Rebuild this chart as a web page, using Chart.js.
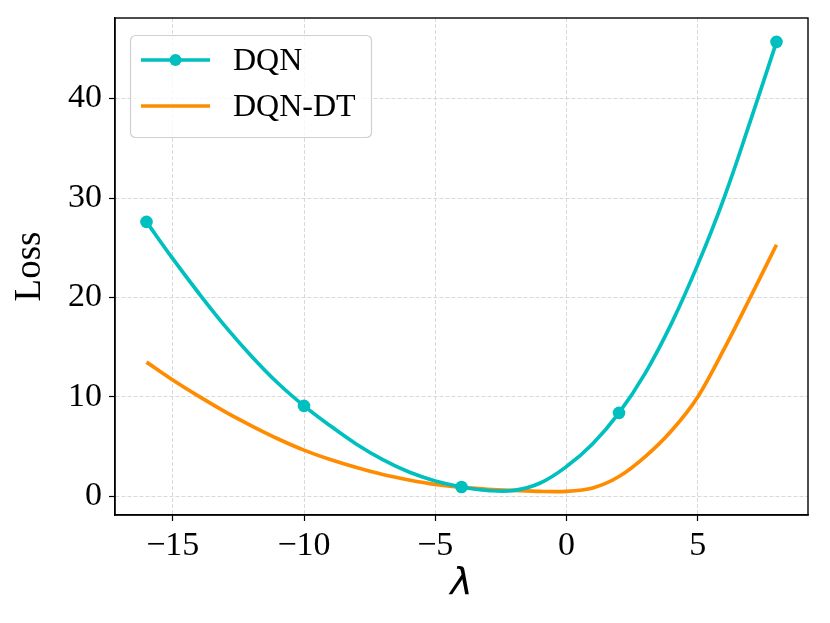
<!DOCTYPE html>
<html>
<head>
<meta charset="utf-8">
<script src="https://cdn.jsdelivr.net/npm/chart.js@4"></script>
<style>
  body { margin: 0; background: #fff; }
  #wrap { width: 830px; height: 623px; }
</style>
</head>
<body>
<div id="wrap"><canvas id="loss-chart" width="830" height="623"></canvas></div>
<script>
// lambda grid (values at each integer lambda)
const lambdas = [-16, -15, -14, -13, -12, -11, -10, -9, -8, -7, -6, -5, -4, -3, -2, -1, 0, 1, 2, 3, 4, 5, 6, 7, 8];
const dqnLoss = [27.6, 23.9, 20.4, 17.1, 14.1, 11.4, 9.1, 7.1, 5.25, 3.7, 2.45, 1.55, 0.95, 0.6, 0.6, 1.35, 3.0, 5.3, 8.4, 12.4, 17.4, 23.3, 30.0, 37.7, 45.7];
const dqnDtLoss = [13.5, 11.7, 10.05, 8.5, 7.1, 5.8, 4.65, 3.7, 2.9, 2.2, 1.65, 1.2, 0.9, 0.72, 0.6, 0.5, 0.5, 0.85, 2.0, 4.0, 6.6, 10.0, 14.8, 20.0, 25.3];
// lambdas where the DQN run was actually measured (drawn with markers)
const dqnMarkers = [-16, -10, -4, 2, 8];
const xTicks = [-15, -10, -5, 0, 5];
const yTicks = [0, 10, 20, 30, 40];

const CYAN = "#00bfbf";
const ORANGE = "#ff8c00";
const SERIF = "'Liberation Serif', 'Times New Roman', Tinos, serif";

const toPoints = (vals) => lambdas.map((x, i) => ({ x: x, y: vals[i] }));
const minusSign = (v) => (v < 0 ? "\u2212" + Math.abs(v) : String(v));

// matplotlib draws all four spines
const framePlugin = {
  id: "frame",
  afterDraw(chart) {
    const { ctx, chartArea: a } = chart;
    ctx.save();
    ctx.strokeStyle = "#000";
    ctx.lineWidth = 1.4;
    ctx.strokeRect(a.left, a.top, a.right - a.left, a.bottom - a.top);
    ctx.restore();
  },
};

// legend box in the upper left, drawn like matplotlib's
const legendPlugin = {
  id: "mplLegend",
  afterDraw(chart) {
    const ctx = chart.ctx;
    ctx.save();
    ctx.beginPath();
    ctx.roundRect(130.5, 35.5, 241, 102, 5);
    ctx.fillStyle = "rgba(255,255,255,0.8)";
    ctx.fill();
    ctx.strokeStyle = "#d0d0d0";
    ctx.lineWidth = 1.2;
    ctx.stroke();
    chart.data.datasets.forEach((ds, i) => {
      const y = 60 + i * 46;
      ctx.strokeStyle = ds.borderColor;
      ctx.lineWidth = 3.7;
      ctx.beginPath();
      ctx.moveTo(141, y);
      ctx.lineTo(210, y);
      ctx.stroke();
      if (ds.label === "DQN") {
        ctx.fillStyle = ds.borderColor;
        ctx.beginPath();
        ctx.arc(175.5, y, 6, 0, Math.PI * 2);
        ctx.fill();
      }
      ctx.fillStyle = "#000";
      ctx.font = "32px " + SERIF;
      ctx.textBaseline = "middle";
      ctx.fillText(ds.label, 233, y + 2);
    });
    ctx.restore();
  },
};

const drawChart = () => {
  new Chart(document.getElementById("loss-chart"), {
    type: "line",
    data: {
      datasets: [
        {
          label: "DQN",
          data: toPoints(dqnLoss),
          borderColor: CYAN,
          backgroundColor: CYAN,
          borderWidth: 3.7,
          tension: 0.4,
          pointRadius: (c) => (dqnMarkers.includes(c.raw.x) ? 6.3 : 0),
          pointBorderWidth: 0,
          pointHoverRadius: 0,
        },
        {
          label: "DQN-DT",
          data: toPoints(dqnDtLoss),
          borderColor: ORANGE,
          backgroundColor: ORANGE,
          borderWidth: 3.7,
          tension: 0.3,
          pointRadius: 0,
          pointHoverRadius: 0,
        },
      ],
    },
    options: {
      responsive: false,
      animation: false,
      events: [],
      layout: { padding: { top: 18, right: 22, left: 0, bottom: 0 } },
      plugins: { legend: { display: false }, tooltip: { enabled: false } },
      scales: {
        x: {
          type: "linear",
          min: -17.2,
          max: 9.2,
          afterFit: (s) => { s.height = 108; s.paddingLeft = 0; s.paddingRight = 0; },
          afterBuildTicks: (s) => { s.ticks = xTicks.map((v) => ({ value: v })); },
          grid: { color: "#cfcfcf", lineWidth: 0.8, tickColor: "#000", tickLength: 6, tickWidth: 1.2, tickBorderDash: [] },
          border: { color: "#000", width: 1.4, dash: [4, 2] },
          ticks: { color: "#000", padding: 5, font: { family: SERIF, size: 34 }, callback: minusSign, maxRotation: 0 },
          title: { display: true, text: "\u03bb", color: "#000", font: { family: "'DejaVu Sans'", size: 38, style: "italic" }, padding: { top: 0, bottom: 16 } },
        },
        y: {
          type: "linear",
          min: -1.87,
          max: 48.1,
          afterFit: (s) => { s.width = 115; s.paddingTop = 0; s.paddingBottom = 0; },
          afterBuildTicks: (s) => { s.ticks = yTicks.map((v) => ({ value: v })); },
          grid: { color: "#cfcfcf", lineWidth: 0.8, tickColor: "#000", tickLength: 6, tickWidth: 1.2, tickBorderDash: [] },
          border: { color: "#000", width: 1.4, dash: [4, 2] },
          ticks: { color: "#000", padding: 7, font: { family: SERIF, size: 34 } },
          title: { display: true, text: "Loss", color: "#000", font: { family: SERIF, size: 37 }, padding: { top: 8, bottom: 0 } },
        },
      },
    },
    plugins: [framePlugin, legendPlugin],
  });
};

// make sure the serif face is ready before the canvas text is drawn
document.fonts.load("34px 'Liberation Serif'").then(drawChart, drawChart);
</script>
</body>
</html>
